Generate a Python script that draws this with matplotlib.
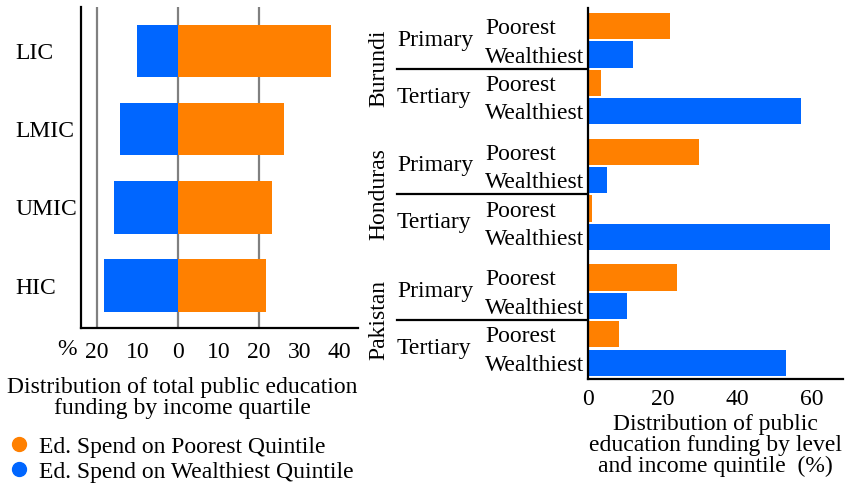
import numpy as np
import matplotlib
matplotlib.use('Agg')
import matplotlib.pyplot as plt
from matplotlib.lines import Line2D
from matplotlib.transforms import blended_transform_factory

plt.rcParams['font.family'] = ['Liberation Serif', 'DejaVu Serif']
plt.rcParams['font.size'] = 17

ORANGE = '#FF8000'
BLUE = '#0066FF'

# left panel: income groups
income_groups = ['LIC', 'LMIC', 'UMIC', 'HIC']
poorest_share = [37.8, 26.1, 23.2, 21.7]
wealthiest_share = [10.1, 14.3, 15.9, 18.3]
left_ticks = [-20, -10, 0, 10, 20, 30, 40]
left_tick_labels = ['20', '10', '0', '10', '20', '30', '40']

# right panel: countries by level and quintile
countries = ['Burundi', 'Honduras', 'Pakistan']
levels = ['Primary', 'Tertiary']
quintiles = ['Poorest', 'Wealthiest']
primary_poorest = [22.0, 29.8, 24.0]
primary_wealthiest = [12.1, 5.2, 10.4]
tertiary_poorest = [3.4, 1.1, 8.3]
tertiary_wealthiest = [57.1, 64.9, 53.1]
right_ticks = [0, 20, 40, 60]

fig = plt.figure(figsize=(8.46, 4.86), dpi=100)

# ---------- left chart ----------
ax1 = fig.add_axes([81 / 846, 1 - 328 / 486, 277 / 846, 321 / 486])
y = np.arange(len(income_groups))
for gx in [-20, 0, 20]:
    ax1.axvline(gx, color='#808080', lw=1.6, zorder=0)
ax1.barh(y, poorest_share, height=0.67, color=ORANGE, zorder=2)
ax1.barh(y, [-v for v in wealthiest_share], height=0.67, color=BLUE, zorder=2)
ax1.set_xlim(-24, 44.5)
ax1.set_ylim(3.54, -0.56)
ax1.set_yticks(y)
ax1.set_yticklabels(income_groups, ha='left')
ax1.tick_params(axis='y', length=0, pad=47)
ax1.set_xticks(left_ticks)
ax1.set_xticklabels(left_tick_labels)
ax1.tick_params(axis='x', length=0, pad=10)
for s in ['top', 'right']:
    ax1.spines[s].set_visible(False)
for s in ['left', 'bottom']:
    ax1.spines[s].set_linewidth(1.6)
ax1.text(-0.05, -0.066, '%', transform=ax1.transAxes, ha='center', va='center')
ax1.set_xlabel('Distribution of total public education\nfunding by income quartile',
               labelpad=10, linespacing=1.0)
ax1.xaxis.label.set_x(0.365)

# ---------- right chart ----------
ax2 = fig.add_axes([588 / 846, 1 - 379 / 486, 255 / 846, 371 / 486])
gap = 1.43
values = []
colors = []
pos = []
for g in range(len(countries)):
    base = g * (4 + gap - 1)
    vals = [primary_poorest[g], primary_wealthiest[g], tertiary_poorest[g], tertiary_wealthiest[g]]
    for k, v in enumerate(vals):
        pos.append(base + k)
        values.append(v)
        colors.append(ORANGE if k % 2 == 0 else BLUE)
pos = np.array(pos)
ax2.barh(pos, values, height=0.92, color=colors)
ax2.set_xlim(0, 68.5)
ax2.set_ylim(pos[-1] + 0.58, -0.64)
ax2.set_yticks(pos)
ax2.set_yticklabels(quintiles * (len(pos) // 2), ha='left')
ax2.tick_params(axis='y', length=0, pad=74)
ax2.set_xticks(right_ticks)
ax2.tick_params(axis='x', length=0, pad=7)
for s in ['top', 'right']:
    ax2.spines[s].set_visible(False)
for s in ['left', 'bottom']:
    ax2.spines[s].set_linewidth(1.6)

tr = blended_transform_factory(ax2.transAxes, ax2.transData)
for g, name in enumerate(countries):
    base = g * (4 + gap - 1)
    ax2.plot([-0.749, 0], [base + 1.5, base + 1.5], color='black', lw=1.6,
             transform=tr, clip_on=False)
    ax2.text(-0.749, base + 0.5, levels[0], transform=tr, ha='left', va='center')
    ax2.text(-0.749, base + 2.5, levels[1], transform=tr, ha='left', va='center')
    ax2.text(-0.82, base + 1.5, name, transform=tr, ha='center', va='center', rotation=90)
ax2.set_xlabel('Distribution of public\neducation funding by level\nand income quintile  (%)',
               labelpad=3, linespacing=1.0)

# legend
handles = [Line2D([], [], marker='o', linestyle='', color=ORANGE, markersize=10),
           Line2D([], [], marker='o', linestyle='', color=BLUE, markersize=10)]
fig.legend(handles, ['Ed. Spend on Poorest Quintile', 'Ed. Spend on Wealthiest Quintile'],
           loc='upper left', bbox_to_anchor=(0.008, 1 - 436 / 486), frameon=False,
           handlelength=1.0, handletextpad=0.35, labelspacing=0.15,
           borderpad=0, borderaxespad=0)

fig.savefig('out.png', dpi=100)
